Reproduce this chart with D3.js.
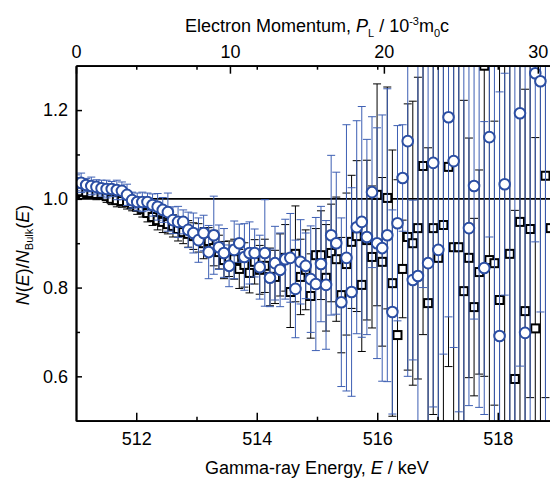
<!DOCTYPE html>
<html><head><meta charset="utf-8">
<script src="https://cdn.jsdelivr.net/npm/d3@7/dist/d3.min.js"></script>
<style>
html,body{margin:0;padding:0;background:#fff;}
svg{display:block;font-family:"Liberation Sans",Arial,Helvetica,sans-serif;}
</style></head><body>
<svg id="chart" width="550" height="478"></svg>
<script>
// ---- data ----
const energy = [
 511.000,511.085,511.169,511.254,511.339,511.424,511.508,511.593,511.678,511.762,
 511.847,511.932,512.016,512.101,512.186,512.271,512.355,512.440,512.525,512.609,
 512.694,512.779,512.863,512.948,513.033,513.118,513.202,513.287,513.372,513.456,
 513.541,513.626,513.710,513.795,513.880,513.965,514.049,514.134,514.219,514.303,
 514.388,514.473,514.557,514.642,514.727,514.812,514.896,514.981,515.066,515.150,
 515.235,515.320,515.404,515.489,515.574,515.659,515.743,515.828,515.913,515.997,
 516.082,516.167,516.251,516.336,516.421,516.506,516.590,516.675,516.760,516.844,
 516.929,517.014,517.098,517.183,517.268,517.353,517.437,517.522,517.607,517.691,
 517.776,517.861,517.945,518.030,518.115,518.200,518.284,518.369,518.454,518.538,
 518.623,518.708,518.792,518.877];

const circleN = [
 1.036,1.036,1.031,1.029,1.027,1.024,1.022,1.022,1.020,1.018,
 1.009,0.997,0.993,0.993,0.993,0.986,0.982,0.975,0.970,0.952,
 0.948,0.948,0.930,0.923,0.907,0.923,0.880,0.918,0.891,0.878,
 0.849,0.885,0.900,0.869,0.878,0.878,0.846,0.878,0.822,0.855,
 0.840,0.864,0.867,0.797,0.858,0.849,0.819,0.808,0.853,0.806,
 0.918,0.900,0.767,0.867,0.790,0.936,0.948,0.914,1.015,0.900,
 0.889,0.918,0.745,0.945,1.047,1.130,0.817,0.826,1.400,0.855,
 1.081,0.885,1.450,1.184,1.085,1.420,1.500,0.934,1.029,1.380,
 0.844,1.139,1.550,0.691,1.033,1.400,1.450,1.193,0.698,1.500,
 1.283,1.265,1.400,1.450];

const circleErr = [
 0.018,0.022,0.015,0.020,0.016,0.018,0.020,0.017,0.022,0.020,
 0.024,0.018,0.020,0.022,0.020,0.025,0.030,0.028,0.043,0.030,
 0.035,0.027,0.040,0.045,0.050,0.040,0.060,0.088,0.050,0.055,
 0.047,0.065,0.043,0.075,0.070,0.054,0.072,0.120,0.065,0.083,
 0.083,0.090,0.100,0.110,0.095,0.074,0.120,0.150,0.130,0.145,
 0.180,0.160,0.190,0.300,0.235,0.240,0.260,0.220,0.170,0.260,
 0.300,0.330,0.230,0.220,0.120,0.530,0.180,0.500,0.600,0.500,
 0.550,0.600,0.800,0.450,0.420,0.900,1.000,0.400,0.300,0.850,
 0.330,0.225,1.100,0.550,0.250,0.900,1.000,0.570,0.600,1.000,
 0.380,0.520,0.950,1.000];

const squareN = [
 1.015,1.017,1.015,1.013,1.011,1.011,1.006,1.000,0.997,0.995,
 0.993,0.988,0.982,0.977,0.968,0.959,0.952,0.948,0.943,0.939,
 0.932,0.925,0.921,0.916,0.912,0.900,0.905,0.889,0.880,0.862,
 0.865,0.864,0.842,0.851,0.833,0.858,0.840,0.849,0.824,0.824,
 0.851,0.867,0.790,0.876,0.824,0.840,0.781,0.873,0.873,0.822,
 0.878,0.864,0.783,0.853,0.903,0.916,0.806,0.907,0.869,1.009,
 0.858,1.002,0.810,0.693,0.842,0.914,0.900,0.934,1.074,0.765,
 0.934,0.867,0.941,1.072,0.891,0.891,0.792,0.867,0.756,0.835,
 1.300,0.862,0.855,0.772,1.400,0.876,0.594,0.948,0.747,0.932,
 0.708,1.380,1.052,0.934];

const squareErr = [
 0.012,0.010,0.012,0.011,0.013,0.012,0.014,0.013,0.015,0.014,
 0.016,0.015,0.017,0.018,0.020,0.019,0.022,0.024,0.022,0.025,
 0.027,0.026,0.030,0.030,0.032,0.035,0.030,0.040,0.038,0.042,
 0.040,0.045,0.044,0.050,0.045,0.050,0.055,0.060,0.065,0.060,
 0.070,0.075,0.080,0.108,0.085,0.090,0.095,0.060,0.100,0.120,
 0.110,0.140,0.130,0.160,0.150,0.170,0.150,0.180,0.160,0.250,
 0.190,0.250,0.300,0.350,0.110,0.300,0.320,0.340,0.380,0.350,
 0.420,0.450,0.500,0.450,0.550,0.600,0.430,0.270,0.200,0.230,
 0.700,0.500,0.320,0.600,0.900,0.550,0.380,0.700,0.500,0.380,
 0.430,0.900,0.500,0.600];

const energyTicks = [512, 514, 516, 518];
const energyMinorTicks = [513, 515, 517];
const momentumTicks = [0, 10, 20, 30];
const yTicks = [0.6, 0.8, 1.0, 1.2];
const yMinorTicks = [0.7, 0.9, 1.1];
const referenceLevel = 1.0;

// ---- layout ----
const svg = d3.select("#chart");
const box = {left: 76, right: 558, top: 65.7, bottom: 420.7};
const x = d3.scaleLinear().domain([511, 519]).range([box.left, box.right]);
const keVPerUnit = 0.511 / 2; // keV per 10^-3 m0c of longitudinal momentum
const xTop = d3.scaleLinear().domain([0, 8 / keVPerUnit]).range([box.left, box.right]);
const y = d3.scaleLinear().domain([0.5, 1.3]).range([box.bottom, box.top]);

const blueBar = "#3d5fb3", blueMark = "#2b4ea3";

svg.append("defs").append("clipPath").attr("id", "plotclip")
  .append("rect").attr("x", box.left).attr("y", box.top)
  .attr("width", box.right - box.left).attr("height", box.bottom - box.top);

const plot = svg.append("g").attr("clip-path", "url(#plotclip)");

plot.append("line")
  .attr("x1", box.left).attr("x2", box.right)
  .attr("y1", y(referenceLevel)).attr("y2", y(referenceLevel))
  .attr("stroke", "#000").attr("stroke-width", 1.6);

const squares = energy.map((e, i) => ({e, v: squareN[i], err: squareErr[i]}));
const circles = energy.map((e, i) => ({e, v: circleN[i], err: circleErr[i]}));

function errorBars(data, color, width) {
  const g = plot.append("g").attr("stroke", color).attr("stroke-width", width).attr("fill", "none");
  const cw = 4;
  g.selectAll("path").data(data).join("path")
    .attr("d", d => {
      const cx = x(d.e), y1 = y(d.v + d.err), y2 = y(d.v - d.err);
      return `M${cx},${y1}V${y2}M${cx - cw},${y1}H${cx + cw}M${cx - cw},${y2}H${cx + cw}`;
    });
}

errorBars(squares, "#000", 1);
plot.append("g").selectAll("rect").data(squares).join("rect")
  .attr("x", d => x(d.e) - 4).attr("y", d => y(d.v) - 4)
  .attr("width", 8).attr("height", 8)
  .attr("fill", "#fff").attr("stroke", "#000").attr("stroke-width", 2);

errorBars(circles, blueBar, 1);
plot.append("g").selectAll("circle").data(circles).join("circle")
  .attr("cx", d => x(d.e)).attr("cy", d => y(d.v)).attr("r", 5.3)
  .attr("fill", "#fff").attr("stroke", blueMark).attr("stroke-width", 2);

// ---- axes ----
const fs = 18;
function styleAxis(g) {
  g.select(".domain").attr("stroke", "#000").attr("stroke-width", 1.8);
  g.selectAll(".tick line").attr("stroke", "#000").attr("stroke-width", 1.5);
  g.selectAll(".tick text").attr("font-size", fs).attr("fill", "#000")
    .attr("font-family", '"Liberation Sans",Arial,sans-serif');
}

// bottom energy axis
svg.append("g").attr("transform", `translate(0,${box.bottom})`)
  .call(d3.axisBottom(x).tickValues(energyTicks).tickFormat(d3.format("d"))
        .tickSize(-8).tickSizeOuter(0).tickPadding(11.5))
  .call(styleAxis);
svg.append("g").attr("transform", `translate(0,${box.bottom})`)
  .call(d3.axisBottom(x).tickValues(energyMinorTicks).tickFormat("")
        .tickSize(-4).tickSizeOuter(0))
  .call(styleAxis);

// left axis
svg.append("g").attr("transform", `translate(${box.left},0)`)
  .call(d3.axisLeft(y).tickValues(yTicks).tickFormat(d3.format(".1f"))
        .tickSize(-6).tickSizeOuter(0).tickPadding(8))
  .call(styleAxis);
svg.append("g").attr("transform", `translate(${box.left},0)`)
  .call(d3.axisLeft(y).tickValues(yMinorTicks).tickFormat("")
        .tickSize(-4).tickSizeOuter(0))
  .call(styleAxis);

// top momentum axis
svg.append("g").attr("transform", `translate(0,${box.top})`)
  .call(d3.axisTop(xTop).tickValues(momentumTicks).tickFormat(d3.format("d"))
        .tickSize(-8).tickSizeOuter(0).tickPadding(7.7))
  .call(styleAxis);
// mirrored energy ticks on the top frame
svg.append("g").attr("transform", `translate(0,${box.top})`)
  .call(d3.axisTop(x).tickValues(energyTicks.concat(energyMinorTicks)).tickFormat("")
        .tickSize(-4).tickSizeOuter(0))
  .call(styleAxis);

// right frame (falls just outside the visible window)
svg.append("line").attr("x1", box.right).attr("x2", box.right)
  .attr("y1", box.top).attr("y2", box.bottom)
  .attr("stroke", "#000").attr("stroke-width", 1.8);

// ---- titles ----
const cx = (box.left + box.right) / 2;
const bt = svg.append("text").attr("x", cx).attr("y", 474)
  .attr("text-anchor", "middle").attr("font-size", fs).attr("fill", "#000");
bt.append("tspan").text("Gamma-ray Energy, ");
bt.append("tspan").attr("font-style", "italic").text("E");
bt.append("tspan").text(" / keV");

const tt = svg.append("text").attr("x", cx).attr("y", 32)
  .attr("text-anchor", "middle").attr("font-size", fs).attr("fill", "#000");
tt.append("tspan").text("Electron Momentum, ");
tt.append("tspan").attr("font-style", "italic").text("P");
tt.append("tspan").attr("font-size", 11).attr("dy", 5).text("L");
tt.append("tspan").attr("dy", -5).text(" / 10");
tt.append("tspan").attr("font-size", 11).attr("dy", -7).text("-3");
tt.append("tspan").attr("dy", 7).text("m");
tt.append("tspan").attr("font-size", 11).attr("dy", 5).text("0");
tt.append("tspan").attr("dy", -5).text("c");

const yt = svg.append("text").attr("transform", "translate(29,255) rotate(-90)")
  .attr("text-anchor", "middle").attr("font-size", fs).attr("fill", "#000");
yt.append("tspan").attr("font-style", "italic").text("N");
yt.append("tspan").text("(");
yt.append("tspan").attr("font-style", "italic").text("E");
yt.append("tspan").text(")/");
yt.append("tspan").attr("font-style", "italic").text("N");
yt.append("tspan").attr("font-size", 11).attr("dy", 4).text("Bulk");
yt.append("tspan").attr("dy", -4).text("(");
yt.append("tspan").attr("font-style", "italic").text("E");
yt.append("tspan").text(")");
</script>
</body></html>
